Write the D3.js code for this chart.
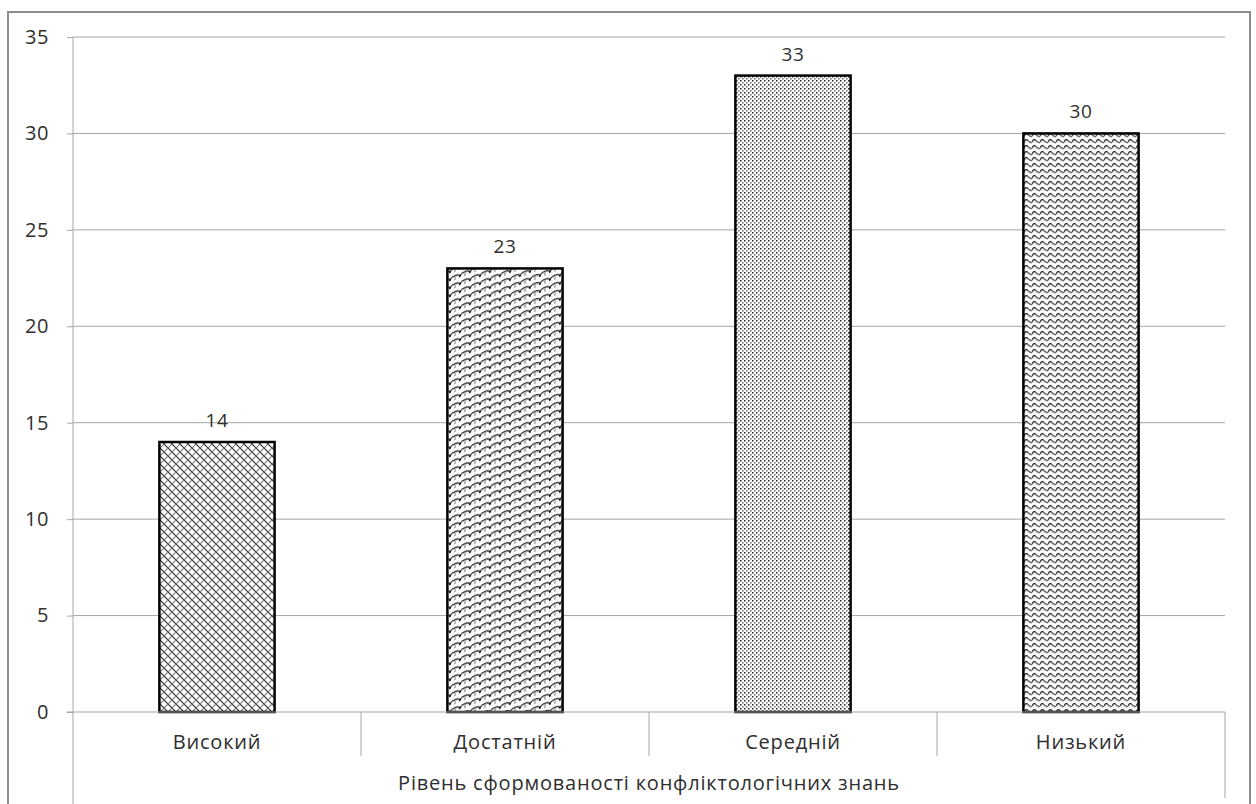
<!DOCTYPE html>
<html>
<head>
<meta charset="utf-8">
<script src="https://cdn.jsdelivr.net/npm/d3@7"></script>
<style>
  html, body { margin: 0; padding: 0; background: #fff; }
  svg { display: block; }
  text { font-family: "Open Sans", "Noto Sans", sans-serif; fill: #2e2e2e; }
</style>
</head>
<body>
<svg id="chart" width="1256" height="804"></svg>
<script>
// Chart data
const categories = ["Високий", "Достатній", "Середній", "Низький"];
const values = [14, 23, 33, 30];
const patternIds = ["crosshatch", "shingle", "dots", "wave"];
const yTicks = [0, 5, 10, 15, 20, 25, 30, 35];
const axisTitle = "Рівень сформованості конфліктологічних знань";

const svg = d3.select("#chart");
const W = 1256, H = 804;
const plotL = 73, plotR = 1225, plotT = 37, plotB = 712;

// Fill patterns for the bars
const defs = svg.append("defs");

// diagonal lattice
const p1 = defs.append("pattern").attr("id", "crosshatch")
  .attr("patternUnits", "userSpaceOnUse").attr("width", 8).attr("height", 8);
p1.append("rect").attr("width", 8).attr("height", 8).attr("fill", "#fff");
p1.append("path").attr("d", "M0,0 L8,8 M-1,7 L1,9 M7,-1 L9,1")
  .attr("stroke", "#222").attr("stroke-width", 1.1).attr("fill", "none");
p1.append("path").attr("d", "M8,0 L0,8 M-1,1 L1,-1 M7,9 L9,7")
  .attr("stroke", "#777").attr("stroke-width", 1.1).attr("fill", "none");

// shingles: tilted rows of arcs
const p2 = defs.append("pattern").attr("id", "shingle")
  .attr("patternUnits", "userSpaceOnUse").attr("width", 10).attr("height", 8)
  .attr("patternTransform", "skewY(-22)");
p2.append("rect").attr("x", -2).attr("y", -2).attr("width", 14).attr("height", 12).attr("fill", "#fff");
p2.append("path").attr("d", "M0,7 C0,2 10,2 10,7")
  .attr("stroke", "#111").attr("stroke-width", 1.25).attr("fill", "none");
p2.append("path").attr("d", "M5,3.3 L5,8 M5,-0.7 L5,0")
  .attr("stroke", "#777").attr("stroke-width", 1.1).attr("fill", "none");

// fine dots
const p3 = defs.append("pattern").attr("id", "dots")
  .attr("patternUnits", "userSpaceOnUse").attr("width", 4).attr("height", 4);
p3.append("rect").attr("width", 4).attr("height", 4).attr("fill", "#fff");
p3.append("rect").attr("x", 0).attr("y", 0).attr("width", 1.5).attr("height", 1.5).attr("fill", "#222");
p3.append("rect").attr("x", 2).attr("y", 2).attr("width", 1.6).attr("height", 1.6).attr("fill", "#7a7a7a");

// waves
const p4 = defs.append("pattern").attr("id", "wave")
  .attr("patternUnits", "userSpaceOnUse").attr("width", 8).attr("height", 6);
p4.append("rect").attr("width", 8).attr("height", 6).attr("fill", "#fff");
p4.append("path").attr("d", "M0,4 Q2,0 4,2.5 T8,4")
  .attr("stroke", "#2a2a2a").attr("stroke-width", 1.2).attr("fill", "none");
p4.append("path").attr("d", "M0,4.9 Q2,1 4,3.4 T8,4.9")
  .attr("stroke", "#999").attr("stroke-width", 0.9).attr("fill", "none");

// Outer chart frame
svg.append("rect").attr("x", 8).attr("y", 12).attr("width", 1242).attr("height", 820)
  .attr("fill", "none").attr("stroke", "#8c8c8c").attr("stroke-width", 2);

// Scales
const y = d3.scaleLinear().domain([0, 35]).range([plotB, plotT]);
const xBars = d3.scaleBand().domain(categories).range([plotL, plotR])
  .paddingInner(0.6).paddingOuter(0.3);
const xCells = d3.scaleBand().domain(categories).range([plotL, plotR]).padding(0);

// Gridlines
svg.append("g").selectAll("line").data(yTicks.filter(d => d !== 0)).join("line")
  .attr("x1", plotL).attr("x2", plotR)
  .attr("y1", d => y(d)).attr("y2", d => y(d))
  .attr("stroke", "#a6a6a6").attr("stroke-width", 1);

// Y axis
const yAxis = svg.append("g").attr("transform", `translate(${plotL},0)`)
  .call(d3.axisLeft(y).tickValues(yTicks).tickSize(6).tickPadding(18));
yAxis.select(".domain").attr("stroke", "#a6a6a6").attr("d", `M0,${plotT}V${H}`);
yAxis.selectAll(".tick line").attr("stroke", "#a6a6a6");
yAxis.selectAll(".tick text").attr("font-size", 20).attr("fill", "#2e2e2e")
  .attr("letter-spacing", 0.6);

// Bars
svg.append("g").selectAll("rect").data(categories).join("rect")
  .attr("x", d => xBars(d))
  .attr("y", (d, i) => y(values[i]))
  .attr("width", xBars.bandwidth())
  .attr("height", (d, i) => y(0) - y(values[i]))
  .attr("fill", (d, i) => `url(#${patternIds[i]})`)
  .attr("stroke", "#000").attr("stroke-width", 2.5);

// Value labels
svg.append("g").selectAll("text").data(categories).join("text")
  .attr("x", d => xBars(d) + xBars.bandwidth() / 2)
  .attr("y", (d, i) => y(values[i]) - 15)
  .attr("text-anchor", "middle").attr("font-size", 19).attr("letter-spacing", 0.6)
  .text((d, i) => values[i]);

// Category axis baseline and separators
svg.append("line").attr("x1", plotL - 6).attr("x2", plotR)
  .attr("y1", plotB).attr("y2", plotB)
  .attr("stroke", "#a6a6a6").attr("stroke-width", 1.2);
const inner = categories.slice(1).map(c => xCells(c));
svg.append("g").selectAll("line").data(inner).join("line")
  .attr("x1", d => d).attr("x2", d => d)
  .attr("y1", plotB).attr("y2", 756)
  .attr("stroke", "#a6a6a6").attr("stroke-width", 1);
svg.append("line").attr("x1", plotR).attr("x2", plotR)
  .attr("y1", plotB).attr("y2", 798)
  .attr("stroke", "#a6a6a6").attr("stroke-width", 1);

// Category labels
svg.append("g").selectAll("text").data(categories).join("text")
  .attr("x", d => xCells(d) + xCells.bandwidth() / 2)
  .attr("y", 749)
  .attr("text-anchor", "middle").attr("font-size", 20).attr("letter-spacing", 0.8)
  .text(d => d);

// Group title under the categories
svg.append("text").attr("x", (plotL + plotR) / 2).attr("y", 790)
  .attr("text-anchor", "middle").attr("font-size", 20).attr("letter-spacing", 0.8)
  .text(axisTitle);
</script>
</body>
</html>
